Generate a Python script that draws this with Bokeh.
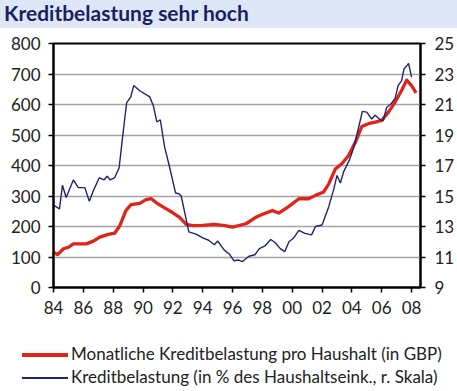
from bokeh.plotting import figure
from bokeh.models import Range1d, LinearAxis, FixedTicker, Div
from bokeh.layouts import column
from bokeh.embed import file_html
from bokeh.resources import INLINE

TITLE = "Kreditbelastung sehr hoch"
LEGEND_RED = "Monatliche Kreditbelastung pro Haushalt (in GBP)"
LEGEND_BLUE = "Kreditbelastung (in % des Haushaltseink., r. Skala)"

x_ticks = [1984, 1986, 1988, 1990, 1992, 1994, 1996, 1998, 2000, 2002, 2004, 2006, 2008]
x_labels = ["84", "86", "88", "90", "92", "94", "96", "98", "00", "02", "04", "06", "08"]
left_ticks = [0, 100, 200, 300, 400, 500, 600, 700, 800]
right_ticks = [9, 11, 13, 15, 17, 19, 21, 23, 25]

# Monthly loan burden per household (GBP), left scale
red_years = [1984.0, 1984.27, 1984.67, 1985.0, 1985.33, 1986.2, 1986.67, 1987.1, 1987.67,
             1988.1, 1988.45, 1988.85, 1989.2, 1989.78, 1990.2, 1990.56, 1991.0, 1991.56,
             1992.0, 1992.45, 1992.9, 1993.33, 1994.0, 1994.78, 1995.5, 1996.0, 1996.9,
             1997.56, 1998.1, 1998.67, 1999.1, 1999.78, 2000.45, 2001.1, 2001.56, 2002.1,
             2002.45, 2002.9, 2003.33, 2003.78, 2004.23, 2004.67, 2005.1, 2005.56, 2006.0,
             2006.45, 2006.9, 2007.33, 2007.67, 2008.0, 2008.3]
red_values = [116, 108, 127, 132, 143, 143, 152, 165, 174,
              178, 203, 252, 272, 276, 288, 291, 274, 258,
              245, 230, 207, 203, 204, 207, 203, 198, 209,
              230, 242, 252, 244, 266, 291, 291, 302, 313,
              340, 389, 406, 433, 476, 528, 537, 542, 548,
              575, 608, 646, 680, 662, 638]

# Loan burden in % of household income, right scale
blue_years = [1984.0, 1984.4, 1984.6, 1984.85, 1985.33, 1985.67, 1986.1, 1986.4, 1986.67,
              1987.07, 1987.38, 1987.6, 1987.8, 1988.1, 1988.4, 1988.6, 1988.9, 1989.18,
              1989.38, 1989.78, 1990.45, 1990.7, 1990.93, 1991.16, 1991.45, 1991.78, 1992.18,
              1992.4, 1992.56, 1993.07, 1993.56, 1994.0, 1994.4, 1994.78, 1995.0, 1995.45,
              1995.78, 1996.1, 1996.4, 1996.67, 1997.1, 1997.5, 1997.8, 1998.2, 1998.56,
              1998.85, 1999.2, 1999.5, 1999.78, 2000.1, 2000.45, 2000.85, 2001.3, 2001.56,
              2002.0, 2002.45, 2002.8, 2003.0, 2003.23, 2003.45, 2003.83, 2004.1, 2004.33,
              2004.56, 2004.7, 2005.0, 2005.33, 2005.56, 2005.9, 2006.1, 2006.33, 2006.63,
              2006.9, 2007.1, 2007.33, 2007.5, 2007.73, 2007.8, 2008.0]
blue_values = [14.4, 14.15, 15.7, 14.9, 16.05, 15.55, 15.55, 14.65, 15.35,
               16.2, 16.05, 16.3, 16.05, 16.2, 16.85, 18.6, 21.1, 21.5,
               22.25, 21.9, 21.5, 20.9, 19.85, 20.0, 18.2, 16.9, 15.2,
               15.15, 15.0, 12.65, 12.5, 12.25, 12.1, 11.8, 12.05, 11.45,
               11.2, 10.75, 10.8, 10.7, 11.05, 11.15, 11.55, 11.75, 12.15,
               11.95, 11.55, 11.35, 12.0, 12.25, 12.75, 12.55, 12.45, 13.0,
               13.1, 14.3, 15.5, 16.35, 15.85, 16.6, 17.35, 18.1, 19.0,
               19.95, 20.55, 20.5, 20.05, 20.3, 20.0, 19.95, 20.8, 21.05,
               21.4, 22.25, 22.55, 23.35, 23.6, 23.7, 22.8]

RED = "#e2231a"
BLUE = "#1f2470"
FONT = "Lato"
TXT = "#222222"
W = 457

# ---- title band ----
title = Div(text=TITLE, width=W, height=28, margin=0,
            styles={"background-color": "#dde7f7", "color": "#1b1f5e",
                    "font-family": FONT, "font-weight": "bold", "font-size": "21px",
                    "line-height": "25px", "padding-left": "4px",
                    "box-sizing": "border-box"})

# ---- chart ----
p = figure(width=W, height=307, x_range=Range1d(1984, 2008.6), y_range=Range1d(0, 800),
           toolbar_location=None, output_backend="svg",
           min_border_left=53, min_border_right=35, min_border_top=15, min_border_bottom=48,
           outline_line_color="black", outline_line_width=2,
           background_fill_color="white", border_fill_color="white")
p.extra_y_ranges = {"right": Range1d(9, 25)}
p.add_layout(LinearAxis(y_range_name="right"), "right")

p.xaxis.ticker = FixedTicker(ticks=x_ticks)
p.xaxis.major_label_overrides = {tk: lb for tk, lb in zip(x_ticks, x_labels)}
p.yaxis[0].ticker = FixedTicker(ticks=left_ticks)
p.yaxis[1].ticker = FixedTicker(ticks=right_ticks)

for ax in p.axis:
    ax.axis_line_color = "black"
    ax.axis_line_width = 2
    ax.major_tick_line_color = "black"
    ax.major_tick_line_width = 1.5
    ax.major_tick_out = 5
    ax.major_tick_in = 0
    ax.minor_tick_line_color = None
    ax.major_label_text_font = FONT
    ax.major_label_text_font_size = "17px"
    ax.major_label_text_color = TXT
p.yaxis[0].major_label_standoff = 8
p.yaxis[1].major_label_standoff = 9
p.xaxis.major_label_standoff = 8

p.xgrid.visible = False
p.ygrid.ticker = FixedTicker(ticks=left_ticks[1:-1])
p.ygrid.grid_line_color = "#a3a3a3"
p.ygrid.grid_line_width = 1.6

p.line(red_years, red_values, line_color=RED, line_width=3.3, line_join="round")
p.line(blue_years, blue_values, y_range_name="right", line_color=BLUE, line_width=1.4)

# ---- legend (two rows: coloured key line + label) ----
def legend_row(color, thickness, label):
    return ('<div style="height:23px;display:flex;align-items:center;white-space:nowrap;">'
            '<span style="display:inline-block;width:46px;height:%dpx;background:%s;'
            'margin-right:3px;"></span>%s</div>') % (thickness, color, label)

legend = Div(text=legend_row(RED, 4, LEGEND_RED) + legend_row(BLUE, 2, LEGEND_BLUE),
             width=W, height=56, margin=0,
             styles={"font-family": FONT, "font-size": "17px", "color": TXT,
                     "padding-left": "22px", "padding-top": "8px",
                     "box-sizing": "border-box"})

layout = column(title, p, legend, spacing=0)
open("out.html", "w").write(file_html(layout, INLINE))
